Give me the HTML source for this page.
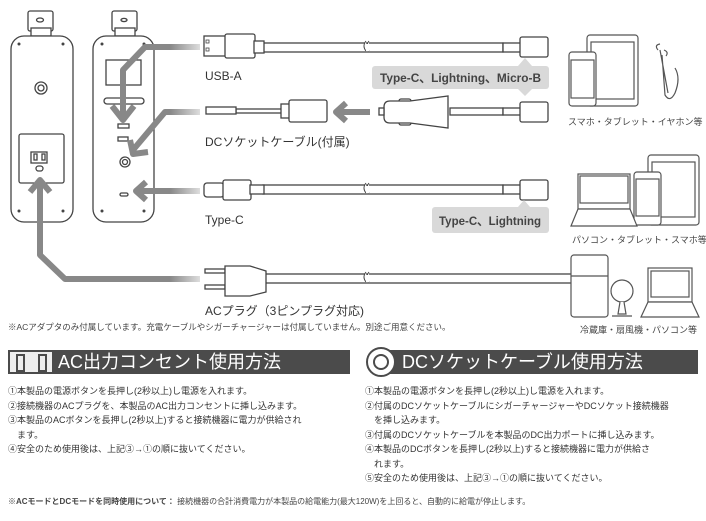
<!DOCTYPE html>
<html><head><meta charset="utf-8"><style>
body{margin:0;width:706px;height:521px;background:#fff;font-family:"Liberation Sans","Noto Sans CJK JP",sans-serif;color:#333;position:relative;overflow:hidden}
.t{position:absolute;white-space:nowrap}
.hd{position:absolute;height:24px;background:#4b4b4b;color:#fff;font-size:18px;line-height:24px}
.ls{position:absolute;font-size:9px;line-height:14.5px;color:#333}
</style></head><body>
<svg width="706" height="340" style="position:absolute;left:0;top:0" xmlns="http://www.w3.org/2000/svg">
<defs>
<linearGradient id="g1" x1="0" x2="1"><stop offset="0" stop-color="#888"/><stop offset="1" stop-color="#ddd"/></linearGradient>
</defs>
<g fill="#fff" stroke="#444" stroke-width="1.3">
<rect x="28" y="11" width="25" height="20" rx="2"/><rect x="31" y="28" width="20" height="8"/>
<ellipse cx="40" cy="20" rx="3.5" ry="2"/>
<rect x="11" y="36" width="62" height="186" rx="13"/>
<circle cx="41" cy="88" r="6"/><circle cx="41" cy="88" r="3"/>
<rect x="19" y="134" width="45" height="49" rx="2"/>
<rect x="31" y="152" width="16" height="11"/><rect x="34" y="154" width="3" height="6"/><rect x="42" y="154" width="3" height="6"/>
<rect x="36" y="166" width="7" height="5" rx="2.5"/>
<rect x="112" y="11" width="25" height="20" rx="2"/><rect x="115" y="28" width="20" height="8"/>
<ellipse cx="124" cy="20" rx="3" ry="1.6"/>
<rect x="93" y="36" width="61" height="186" rx="13"/>
<rect x="106" y="60" width="35" height="25"/>
<rect x="104" y="98" width="40" height="6" rx="3"/>
<rect x="118" y="124" width="11" height="4"/><rect x="118" y="137" width="10" height="4"/>
<circle cx="125" cy="162" r="5"/><circle cx="125" cy="162" r="2.5"/>
<rect x="120" y="193" width="8" height="3" rx="1.5"/>
</g>
<g fill="#444"><circle cx="19" cy="44" r="1.5"/><circle cx="63" cy="44" r="1.5"/><circle cx="19" cy="211" r="1.5"/><circle cx="63" cy="211" r="1.5"/>
<circle cx="102" cy="44" r="1.5"/><circle cx="144" cy="44" r="1.5"/><circle cx="102" cy="211" r="1.5"/><circle cx="144" cy="211" r="1.5"/></g>
<g fill="none" stroke="#888" stroke-width="6" stroke-linejoin="round">
<path d="M190 47 L145 47 L123 70 L123 120"/><path d="M112 106 L123 120 L134 106"/>
<path d="M190 112 L165 112 L133 150"/><path d="M130 140 L133 154 L148 152"/>
<path d="M190 191 L136 191"/><path d="M146 182 L136 191 L146 200"/>
<path d="M190 279 L65 279 L40 255 L40 180"/><path d="M30 192 L40 180 L50 192"/>
<path d="M370 112 L336 112"/><path d="M346 103 L336 112 L346 121"/>
</g>
<g fill="url(#g1)"><rect x="170" y="44" width="30" height="6"/><rect x="170" y="109" width="30" height="6"/><rect x="170" y="188" width="30" height="6"/><rect x="170" y="276" width="30" height="6"/></g>
<g fill="#fff" stroke="#444" stroke-width="1.3">
<rect x="263" y="43" width="240" height="9"/><rect x="263" y="185" width="240" height="9"/><rect x="263" y="274" width="310" height="9"/>
<rect x="450" y="108" width="53" height="7"/><rect x="236" y="109" width="50" height="4"/>
<rect x="204" y="36" width="22" height="20"/><rect x="225" y="34" width="30" height="24" rx="2"/><rect x="254" y="41" width="10" height="12"/>
<rect x="206" y="107" width="30" height="7"/><rect x="281" y="104" width="10" height="14"/><rect x="289" y="100" width="38" height="22" rx="2"/>
<rect x="399" y="99" width="12" height="26" rx="2"/>
<path d="M390 101 L410 101 L448 96 L448 128 L410 123 L390 123 Q384 123 384 117 L384 107 Q384 101 390 101 Z"/><rect x="379" y="108" width="5" height="7"/>
<rect x="204" y="183" width="20" height="14" rx="3"/><rect x="223" y="180" width="28" height="20" rx="2"/><rect x="250" y="185" width="14" height="9"/>
<rect x="205" y="269" width="20" height="4"/><rect x="205" y="285" width="20" height="4"/>
<path d="M225 266 L250 266 L266 271 L266 292 L250 296 L225 296 Z"/>
<rect x="503" y="43" width="18" height="9"/><rect x="520" y="37" width="28" height="20" rx="2"/>
<rect x="503" y="108" width="18" height="7"/><rect x="520" y="102" width="28" height="20" rx="2"/>
<rect x="503" y="185" width="18" height="9"/><rect x="520" y="180" width="28" height="20" rx="2"/>
</g>
<rect x="206" y="40" width="3" height="3" fill="none" stroke="#444" stroke-width=".8"/><rect x="206" y="48" width="3" height="3" fill="none" stroke="#444" stroke-width=".8"/>
<g fill="#fff" stroke="#444" stroke-width="1"><path d="M366 41 q-4 5 0 10 M369 41 q-4 5 0 10 M366 183 q-4 5 0 10 M369 183 q-4 5 0 10 M366 272 q-4 5 0 10 M369 272 q-4 5 0 10"/></g>
<g fill="#fff" stroke="none"><rect x="366" y="44" width="3" height="7"/><rect x="366" y="186" width="3" height="7"/><rect x="366" y="275" width="3" height="7"/></g>
<g fill="#d9d9d9"><rect x="372" y="66" width="177" height="23" rx="3"/><path d="M518 66 L525 58 L532 66 Z M518 89 L525 96 L532 89 Z"/>
<rect x="432" y="207" width="117" height="26" rx="3"/><path d="M518 207 L524 200 L530 207Z"/></g>
<text x="380" y="82" font-size="12" font-weight="bold" fill="#444" font-family="Liberation Sans,sans-serif" textLength="161" lengthAdjust="spacingAndGlyphs">Type-C、Lightning、Micro-B</text>
<text x="439" y="225" font-size="12" font-weight="bold" fill="#444" font-family="Liberation Sans,sans-serif" textLength="102" lengthAdjust="spacingAndGlyphs">Type-C、Lightning</text>
<g fill="#fff" stroke="#555" stroke-width="1.2">
<rect x="587" y="35" width="51" height="71" rx="3"/><rect x="591" y="42" width="43" height="57" fill="none"/>
<rect x="569" y="52" width="27" height="54" rx="3"/><rect x="571" y="60" width="23" height="38"/>
<path d="M658 50 q-4 -5 2 -6 M666 56 q3 -4 -2 -6 M662 55 L665 95 q5 8 10 -2 q6 -15 0 -25 M660 50 L668 93"/>
<rect x="648" y="155" width="51" height="70" rx="3"/><rect x="652" y="162" width="43" height="55"/>
<rect x="634" y="172" width="27" height="53" rx="3"/><rect x="636" y="179" width="23" height="37"/>
<rect x="578" y="174" width="52" height="35"/><path d="M571 226 L578 209 L630 209 L637 226Z"/><rect x="580" y="176" width="48" height="27"/>
<rect x="571" y="255" width="37" height="62" rx="3"/><line x1="571" y1="276" x2="608" y2="276"/>
<circle cx="622" cy="291" r="11"/><path d="M620 302 L618 314 L626 314 L624 302 M612 316 L632 316"/>
<rect x="648" y="268" width="44" height="34"/><path d="M641 317 L648 302 L692 302 L699 317Z"/><rect x="651" y="271" width="38" height="26"/>
</g>
<g font-size="9" fill="#444" font-family="Liberation Sans,Noto Sans CJK JP,sans-serif">
<text x="568" y="125">スマホ・タブレット・イヤホン等</text>
<text x="572" y="243">パソコン・タブレット・スマホ等</text>
<text x="580" y="333">冷蔵庫・扇風機・パソコン等</text>
</g>
<g font-size="12" fill="#333" font-family="Liberation Sans,Noto Sans CJK JP,sans-serif">
<text x="205" y="80">USB-A</text>
<text x="205" y="146">DCソケットケーブル(付属)</text>
<text x="205" y="224">Type-C</text>
<text x="205" y="315">ACプラグ（3ピンプラグ対応)</text>
</g>
<text x="8" y="330" font-size="8.5" fill="#444" font-family="Liberation Sans,Noto Sans CJK JP,sans-serif">※ACアダプタのみ付属しています。充電ケーブルやシガーチャージャーは付属していません。別途ご用意ください。</text>
</svg>
<div class="hd" style="left:8px;top:350px;width:342px"><span style="position:absolute;left:0;top:0;width:46px;height:24px;background:#eee;border:2px solid #4b4b4b;box-sizing:border-box"></span><span style="position:absolute;left:8px;top:4px;width:5px;height:14px;border:2px solid #4b4b4b"></span><span style="position:absolute;left:30px;top:4px;width:5px;height:14px;border:2px solid #4b4b4b"></span><span style="position:absolute;left:50px">AC出力コンセント使用方法</span></div>
<div class="hd" style="left:374px;top:350px;width:324px"><span style="position:absolute;left:-8px;top:-3px;width:30px;height:30px;border-radius:50%;background:#fff;border:2px solid #4b4b4b;box-sizing:border-box"></span><span style="position:absolute;left:-1px;top:4px;width:16px;height:16px;border-radius:50%;border:2px solid #4b4b4b;box-sizing:border-box"></span><span style="position:absolute;left:28px">DCソケットケーブル使用方法</span></div>
<div class="ls" style="left:8px;top:384px">①本製品の電源ボタンを長押し(2秒以上)し電源を入れます。<br>②接続機器のACプラグを、本製品のAC出力コンセントに挿し込みます。<br>③本製品のACボタンを長押し(2秒以上)すると接続機器に電力が供給され<br>　ます。<br>④安全のため使用後は、上記③→①の順に抜いてください。</div>
<div class="ls" style="left:365px;top:384px">①本製品の電源ボタンを長押し(2秒以上)し電源を入れます。<br>②付属のDCソケットケーブルにシガーチャージャーやDCソケット接続機器<br>　を挿し込みます。<br>③付属のDCソケットケーブルを本製品のDC出力ポートに挿し込みます。<br>④本製品のDCボタンを長押し(2秒以上)すると接続機器に電力が供給さ<br>　れます。<br>⑤安全のため使用後は、上記③→①の順に抜いてください。</div>
<div class="t" style="left:8px;top:496px;font-size:8px;color:#444"><b>※ACモードとDCモードを同時使用について：</b> 接続機器の合計消費電力が本製品の給電能力(最大120W)を上回ると、自動的に給電が停止します。</div>
</body></html>
